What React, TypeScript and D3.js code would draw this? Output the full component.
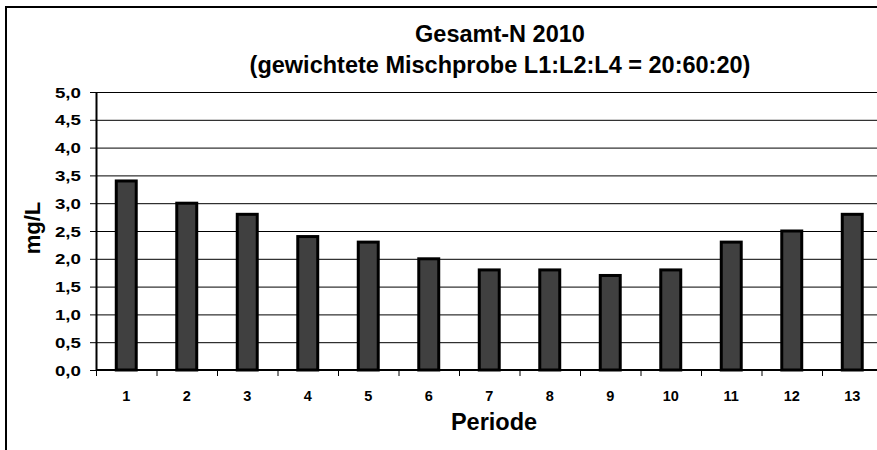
import React from "react";
import * as d3 from "d3";

const periods = ["1","2","3","4","5","6","7","8","9","10","11","12","13"];
const values = [3.4, 3.0, 2.8, 2.4, 2.3, 2.0, 1.8, 1.8, 1.7, 1.8, 2.3, 2.5, 2.8];
const yTicks = [0, 0.5, 1, 1.5, 2, 2.5, 3, 3.5, 4, 4.5, 5];
const titleLines = ["Gesamt-N 2010", "(gewichtete Mischprobe L1:L2:L4 = 20:60:20)"];
const xTitle = "Periode";
const yTitle = "mg/L";

export default function App() {
  const W = 877, H = 450;
  const left = 96, top = 92, bottom = 370;
  const band = 60.5;
  const right = left + band * periods.length;
  const x = d3.scaleBand().domain(periods).range([left, right]).paddingInner(0.67).paddingOuter(0.335);
  const y = d3.scaleLinear().domain([0, 5]).range([bottom, top]);
  const font = "Arial, 'Liberation Sans', sans-serif";
  const fmt = (v: number) => v.toFixed(1).replace(".", ",");
  return (
    <svg width={W} height={H} style={{ position: "absolute", left: 0, top: 0, background: "#fff" }} fontFamily={font}>
      <rect x={0} y={0} width={W} height={H} fill="#fff" />
      <line x1={5} y1={7} x2={W} y2={7} stroke="#000" strokeWidth={2} />
      <line x1={6} y1={6} x2={6} y2={H} stroke="#000" strokeWidth={2} />
      {yTicks.map((t) => (
        <g key={t}>
          {t > 0 && <line x1={left} x2={right} y1={y(t) + 0.5} y2={y(t) + 0.5} stroke="#000" strokeWidth={1} />}
          <line x1={left - 6} x2={left} y1={y(t) + 0.5} y2={y(t) + 0.5} stroke="#000" strokeWidth={1} />
          <text transform={`translate(81,${y(t) + 5.5}) scale(1.25,1)`} textAnchor="end" fontSize={15} fontWeight="bold">{fmt(t)}</text>
        </g>
      ))}
      {periods.map((p, i) => (
        <rect key={p} x={x(p)!} y={y(values[i])} width={x.bandwidth()} height={y(0) - y(values[i])}
          fill="#404040" stroke="#000" strokeWidth={3} />
      ))}
      <line x1={left + 0.5} x2={left + 0.5} y1={top} y2={bottom + 1} stroke="#000" strokeWidth={2} />
      <line x1={left} x2={right} y1={bottom} y2={bottom} stroke="#000" strokeWidth={2} />
      {d3.range(periods.length + 1).map((k) => (
        <line key={k} x1={left + band * k + 0.5} x2={left + band * k + 0.5} y1={bottom} y2={bottom + 6} stroke="#000" strokeWidth={1} />
      ))}
      {periods.map((p) => (
        <text key={p} x={x(p)! + x.bandwidth() / 2} y={401} textAnchor="middle" fontSize={14.5} fontWeight="bold">{p}</text>
      ))}
      {titleLines.map((l, i) => (
        <text key={i} x={500} y={42 + i * 31} textAnchor="middle" fontSize={23.5} fontWeight="bold">{l}</text>
      ))}
      <text x={494} y={430} textAnchor="middle" fontSize={23.5} fontWeight="bold">{xTitle}</text>
      <text transform={`translate(39.5,228) rotate(-90)`} textAnchor="middle" fontSize={22} fontWeight="bold">{yTitle}</text>
    </svg>
  );
}
